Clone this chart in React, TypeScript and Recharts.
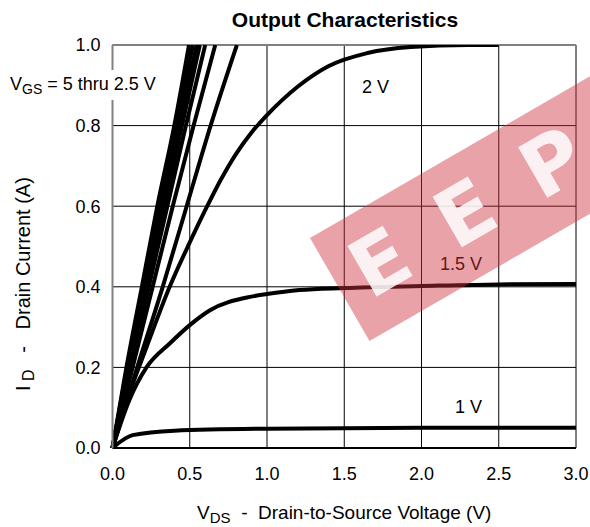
import React from 'react';
import { LineChart, Line, XAxis, YAxis, CartesianGrid, ReferenceLine } from 'recharts';

// axis ticks
const vdsTicks = [0, 0.5, 1, 1.5, 2, 2.5, 3];
const idTicks = [0, 0.2, 0.4, 0.6, 0.8, 1];

// [VDS (V), ID (A)]
// VGS = 5 thru 2.5 V, steepest first
const vgs5 = [[0, 0], [0.09, 0.2], [0.19, 0.4], [0.29, 0.6], [0.4, 0.8], [0.495, 1.0]];
const vgs45 = [[0, 0], [0.095, 0.2], [0.2, 0.4], [0.305, 0.6], [0.415, 0.8], [0.52, 1.0]];
const vgs4 = [[0, 0], [0.1, 0.2], [0.21, 0.4], [0.32, 0.6], [0.43, 0.8], [0.545, 1.0]];
const vgs35 = [[0, 0], [0.105, 0.2], [0.22, 0.4], [0.335, 0.6], [0.45, 0.8], [0.565, 1.0]];
const vgs3 = [[0, 0], [0.115, 0.2], [0.235, 0.4], [0.355, 0.6], [0.475, 0.8], [0.6, 1.0]];
const vgs275 = [[0, 0], [0.13, 0.2], [0.26, 0.4], [0.39, 0.6], [0.525, 0.8], [0.665, 1.0]];
const vgs25 = [[0, 0], [0.16, 0.2], [0.325, 0.4], [0.48, 0.6], [0.635, 0.8], [0.805, 1.0]];

const vgs2 = [
  [0, 0], [0.11, 0.136], [0.22, 0.25], [0.37, 0.4], [0.5, 0.51], [0.6, 0.59],
  [0.7, 0.665], [0.8, 0.73], [0.9, 0.783], [1.0, 0.826], [1.2, 0.897], [1.4, 0.948],
  [1.65, 0.98], [1.93, 0.995], [2.3, 1.0], [2.5, 1.0],
];
const vgs15 = [
  [0, 0], [0.11, 0.12], [0.22, 0.2], [0.372, 0.26], [0.5, 0.305], [0.631, 0.342],
  [0.89, 0.375], [1.0, 0.382], [1.21, 0.392], [1.5, 0.397], [2.0, 0.402], [2.5, 0.406], [3.0, 0.407],
];
const vgs1 = [[0, 0], [0.13, 0.032], [0.4, 0.043], [1.0, 0.048], [2.0, 0.05], [3.0, 0.05]];

const curves = [vgs5, vgs45, vgs4, vgs35, vgs3, vgs275, vgs25, vgs2, vgs15, vgs1];

const toPoints = (pairs: number[][]) => pairs.map(([vds, id]) => ({ vds, id }));

const FONT = '"Liberation Sans", Arial, sans-serif';

const XLabel = (props: any) => {
  const { x, y, width } = props.viewBox;
  return (
    <text x={x + width / 2} y={y + 71} textAnchor="middle" fontSize={19} fill="#000" style={{ whiteSpace: 'pre' }}>
      V<tspan fontSize={15} dy={4}>DS</tspan>
      <tspan dy={-4}>{'  -  Drain-to-Source Voltage (V)'}</tspan>
    </text>
  );
};

const YLabel = (props: any) => {
  const { x, y, height } = props.viewBox;
  const cx = x + 30;
  const cy = y + height - 57;
  return (
    <text
      transform={`translate(${cx},${cy}) rotate(-90)`}
      textAnchor="start"
      fontSize={20}
      fill="#000"
      style={{ whiteSpace: 'pre' }}
    >
      I<tspan fontSize={16} dy={4}>{' D'}</tspan>
      <tspan dy={-4}>{'   -   Drain Current (A)'}</tspan>
    </text>
  );
};

export default function App() {
  return (
    <div style={{ position: 'absolute', left: 0, top: 0, width: 590, height: 527, overflow: 'hidden', background: '#fff', fontFamily: FONT }}>
      <LineChart width={590} height={527} margin={{ top: 45, right: 14, bottom: 49, left: 0 }}>
        <CartesianGrid stroke="#000" strokeWidth={1} />
        <XAxis
          type="number"
          dataKey="vds"
          domain={[0, 3]}
          ticks={vdsTicks}
          tickFormatter={(v: number) => v.toFixed(1)}
          height={30}
          tickLine={false}
          tickSize={0}
          tickMargin={19}
          axisLine={{ stroke: '#000', strokeWidth: 2 }}
          tick={{ fill: '#000', fontSize: 18, fontFamily: FONT }}
          label={{ content: XLabel }}
        />
        <YAxis
          type="number"
          dataKey="id"
          domain={[0, 1]}
          ticks={idTicks}
          allowDataOverflow
          tickFormatter={(v: number) => v.toFixed(1)}
          width={112.5}
          tickLine={false}
          tickSize={6}
          tickMargin={6}
          axisLine={{ stroke: '#808080', strokeWidth: 2 }}
          tick={{ fill: '#000', fontSize: 18, fontFamily: FONT }}
          label={{ content: YLabel }}
        />
        <ReferenceLine y={1} stroke="#808080" strokeWidth={2} />
        {curves.map((c, i) => (
          <Line
            key={i}
            data={toPoints(c)}
            dataKey="id"
            type="monotone"
            stroke="#000"
            strokeWidth={4}
            dot={false}
            activeDot={false}
            isAnimationActive={false}
          />
        ))}
      </LineChart>
      <svg width={590} height={527} style={{ position: 'absolute', left: 0, top: 0, pointerEvents: 'none' }} fontFamily={FONT}>
        <text x={345} y={27} textAnchor="middle" fontSize={21} fontWeight="bold" fill="#000">
          Output Characteristics
        </text>
        <rect x={8} y={70} width={155} height={30} fill="#fff" />
        <text x={10} y={90} fontSize={18} fill="#000">
          V<tspan fontSize={14} dy={4}>GS</tspan>
          <tspan dy={-4}> = 5 thru 2.5 V</tspan>
        </text>
        <text x={362} y={93} fontSize={18} fill="#000">2 V</text>
        <text x={440} y={270} fontSize={18} fill="#000">1.5 V</text>
        <text x={455} y={413} fontSize={18} fill="#000">1 V</text>
        <g transform="translate(310,238) rotate(-30)">
          <rect x={0} y={0} width={420} height={119} fill="rgb(207,51,62)" fillOpacity={0.45} />
          <text x={21} y={84} fontSize={80} fontWeight="bold" fontFamily="DejaVu Sans" fill="#fff" fillOpacity={0.85} letterSpacing={44}>
            EEP
          </text>
        </g>
      </svg>
    </div>
  );
}
